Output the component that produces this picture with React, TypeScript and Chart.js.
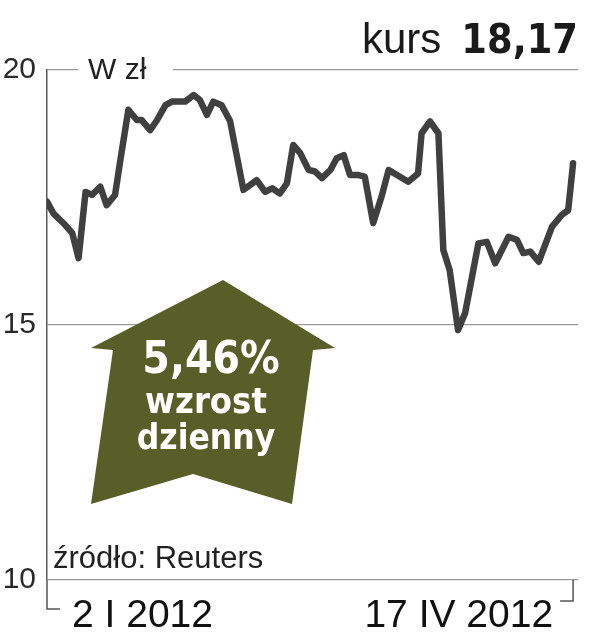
import React, { useEffect, useRef } from "react";
import { Chart, registerables } from "chart.js";

Chart.register(...registerables);

// trading-day index (0 = 2 I 2012, 75 = 17 IV 2012) and closing price in zł
const days = [
  0, 0.9, 2.6, 3.6, 4.5, 5.5, 6.4, 7.6, 8.5, 9.7, 10.4, 11.6, 12.8, 13.5, 14.7, 15.7,
  16.9, 17.8, 19.7, 20.9, 21.8, 22.8, 23.7, 24.9, 26.1, 26.8, 28.0, 29.9, 31.1, 32.1,
  33.2, 34.2, 35.1, 36.1, 37.3, 38.2, 39.2, 40.4, 41.3, 42.3, 43.2, 44.4, 45.3, 46.5,
  47.7, 48.7, 49.9, 51.5, 52.9, 53.4, 54.6, 55.8, 56.5, 57.4, 58.6, 59.6, 61.5, 62.7,
  63.9, 65.8, 67.0, 67.9, 68.9, 70.1, 72.0, 73.4, 74.3, 75.0,
];
const prices = [
  17.42, 17.19, 16.96, 16.8, 16.31, 17.61, 17.55, 17.71, 17.35, 17.55, 18.18, 19.22, 19.02,
  19.02, 18.82, 19.02, 19.31, 19.38, 19.38, 19.51, 19.41, 19.12, 19.38, 19.31, 19.0, 18.5,
  17.65, 17.84, 17.61, 17.68, 17.58, 17.78, 18.53, 18.37, 18.04, 18.01, 17.88, 18.04, 18.27,
  18.33, 17.94, 17.94, 17.91, 17.0, 17.52, 18.04, 17.94, 17.81, 17.97, 18.76, 18.99, 18.76,
  16.47, 16.08, 14.9, 15.23, 16.6, 16.63, 16.21, 16.73, 16.67, 16.41, 16.44, 16.24, 16.93,
  17.16, 17.25, 18.17,
];
const yTicks = [10, 15, 20];
const dateLabels = ["2 I 2012", "17 IV 2012"];
const headline = ["kurs", "18,17"];
const badgeLines = ["5,46%", "wzrost", "dzienny"];
const unitLabel = "W zł";
const sourceLabel = "źródło: Reuters";

const SANS = "'Liberation Sans', Arial, sans-serif";
const BOLD = "'DejaVu Sans Condensed', 'DejaVu Sans', sans-serif";
const OLIVE = "#585e28";

const decor = {
  id: "decor",
  beforeDatasetsDraw(chart: any) {
    const { ctx } = chart;
    const y = chart.scales.y;
    const y20 = y.getPixelForValue(yTicks[2]);
    ctx.save();
    ctx.fillStyle = "#fff";
    ctx.fillRect(78, y20 - 3, 95, 6);
    ctx.fillStyle = "#222";
    ctx.font = `30px ${SANS}`;
    ctx.textBaseline = "alphabetic";
    ctx.textAlign = "left";
    ctx.fillText(unitLabel, 88, y20 + 9);
    ctx.restore();
  },
  afterDatasetsDraw(chart: any) {
    const { ctx } = chart;
    const x = chart.scales.x;
    const y = chart.scales.y;
    const xl = x.getPixelForValue(days[0]);
    const xr = x.getPixelForValue(days[days.length - 1]);
    const yb = y.getPixelForValue(yTicks[0]);
    ctx.save();

    // arrow badge
    ctx.fillStyle = OLIVE;
    ctx.beginPath();
    ctx.moveTo(223, 280);
    ctx.lineTo(335, 348);
    ctx.lineTo(313, 350);
    ctx.lineTo(292, 504);
    ctx.lineTo(193, 474);
    ctx.lineTo(91, 504);
    ctx.lineTo(113, 350);
    ctx.lineTo(91, 348);
    ctx.closePath();
    ctx.fill();

    ctx.fillStyle = "#fff";
    ctx.textAlign = "center";
    ctx.font = `bold 44px ${BOLD}`;
    ctx.fillText(badgeLines[0], 211, 373);
    ctx.font = `bold 36px ${BOLD}`;
    ctx.fillText(badgeLines[1], 206, 413);
    ctx.font = `bold 35px ${BOLD}`;
    ctx.fillText(badgeLines[2], 206, 449);

    // headline
    ctx.fillStyle = "#1a1a1a";
    ctx.textAlign = "right";
    ctx.font = `bold 41px ${BOLD}`;
    ctx.fillText(headline[1], 578, 53);
    const w = ctx.measureText(headline[1]).width;
    ctx.font = `42px ${SANS}`;
    ctx.fillText(headline[0], 578 - w - 20, 53);

    // source
    ctx.fillStyle = "#222";
    ctx.textAlign = "left";
    ctx.font = `31px ${SANS}`;
    ctx.fillText(sourceLabel, 53, 568);

    // brackets
    ctx.strokeStyle = "#555";
    ctx.lineWidth = 1.5;
    ctx.beginPath();
    ctx.moveTo(xl, yb);
    ctx.lineTo(xl, yb + 29);
    ctx.lineTo(xl + 13, yb + 29);
    ctx.moveTo(xr, yb);
    ctx.lineTo(xr, yb + 21);
    ctx.lineTo(xr - 13, yb + 21);
    ctx.stroke();

    // dates
    ctx.fillStyle = "#111";
    ctx.font = `39px ${SANS}`;
    ctx.textAlign = "left";
    ctx.fillText(dateLabels[0], xl + 25, yb + 47);
    ctx.textAlign = "right";
    ctx.fillText(dateLabels[1], xr - 20, yb + 47);
    ctx.restore();
  },
};

export default function App() {
  const ref = useRef<HTMLCanvasElement | null>(null);
  useEffect(() => {
    if (!ref.current) return;
    const chart = new Chart(ref.current, {
      type: "line",
      data: {
        datasets: [
          {
            data: days.map((d, i) => ({ x: d, y: prices[i] })),
            borderColor: "#404040",
            borderWidth: 6.5,
            pointRadius: 0,
            tension: 0,
            borderJoinStyle: "round",
            borderCapStyle: "round",
            fill: false,
          },
        ],
      },
      options: {
        animation: false,
        responsive: true,
        maintainAspectRatio: false,
        layout: { padding: { top: 70, right: 32, bottom: 60, left: 0 } },
        plugins: { legend: { display: false }, tooltip: { enabled: false }, title: { display: false } },
        scales: {
          x: {
            type: "linear",
            min: 0,
            max: 75.7,
            ticks: { display: false },
            grid: { display: false },
            border: { display: false },
            afterFit: (s: any) => {
              s.height = 0;
            },
          },
          y: {
            min: 10,
            max: 20,
            afterBuildTicks: (s: any) => {
              s.ticks = yTicks.map((v) => ({ value: v }));
            },
            ticks: {
              color: "#2a2a2a",
              font: { family: SANS, size: 30 },
              padding: 11,
            },
            grid: { color: "#9a9a9a", lineWidth: 1.2, drawTicks: false },
            border: { display: true, color: "#5a5a5a", width: 1.5 },
            afterFit: (s: any) => {
              s.width = 47;
            },
          },
        },
      },
      plugins: [decor],
    });
    return () => chart.destroy();
  }, []);
  return (
    <div style={{ position: "fixed", left: 0, top: 0, width: 610, height: 640, background: "#fff" }}>
      <canvas ref={ref} />
    </div>
  );
}
